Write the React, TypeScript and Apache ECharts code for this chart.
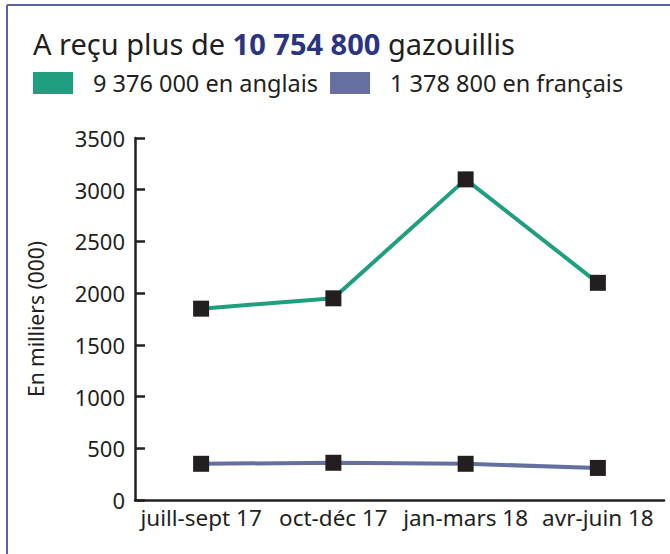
import React, { useEffect, useRef } from "react";
import * as echarts from "echarts";

const categories = ["juill-sept 17", "oct-déc 17", "jan-mars 18", "avr-juin 18"];
const englishValues = [1850, 1950, 3100, 2100];
const frenchValues = [350, 360, 350, 310];
const englishName = "9 376 000 en anglais";
const frenchName = "1 378 800 en français";
const titlePre = "A reçu plus de ";
const titleNum = "10 754 800";
const titlePost = " gazouillis";
const yAxisName = "En milliers (000)";

const GREEN = "#1f9e80";
const PURPLE = "#6670a0";
const INK = "#231f20";
const FONT = "'Noto Sans', 'Open Sans', sans-serif";

export default function App() {
  const ref = useRef<HTMLDivElement>(null);
  useEffect(() => {
    if (!ref.current) return;
    const chart = echarts.init(ref.current, undefined, { renderer: "svg" });
    chart.setOption({
      animation: false,
      backgroundColor: "#fff",
      textStyle: { fontFamily: FONT, color: INK },
      title: {
        text: `{a|${titlePre}}{b|${titleNum}}{a|${titlePost}}`,
        left: 28,
        top: 24,
        textStyle: {
          fontWeight: "normal",
          rich: {
            a: { fontSize: 29, color: INK, fontFamily: FONT, fontWeight: "normal" },
            b: { fontSize: 29, color: "#2b3481", fontWeight: "bold", fontFamily: FONT },
          },
        },
      },
      legend: {
        left: 28,
        top: 66,
        itemWidth: 40,
        itemHeight: 22,
        itemGap: 12,
        textStyle: { fontSize: 23.5, color: INK, fontFamily: FONT, padding: [0, 0, 0, 15] },
        data: [
          { name: englishName, icon: "rect", itemStyle: { color: GREEN } },
          { name: frenchName, icon: "rect", itemStyle: { color: PURPLE } },
        ],
      },
      graphic: [
        { type: "line", shape: { x1: 7, y1: 5, x2: 670, y2: 5 }, style: { stroke: "#5b63a3", lineWidth: 2 } },
        { type: "line", shape: { x1: 7, y1: 5, x2: 7, y2: 554 }, style: { stroke: "#5b63a3", lineWidth: 2 } },
      ],
      grid: { left: 135, right: 6, top: 138, bottom: 54 },
      xAxis: {
        type: "category",
        data: categories,
        boundaryGap: true,
        axisLine: { lineStyle: { color: INK, width: 2.5 } },
        axisTick: { inside: true, length: 10, interval: 0, lineStyle: { color: INK, width: 2.5 } },
        axisLabel: { fontSize: 22.5, color: INK, margin: 6, interval: 0, fontFamily: FONT },
      },
      yAxis: {
        type: "value",
        min: 0,
        max: 3500,
        interval: 500,
        name: yAxisName,
        nameLocation: "middle",
        nameGap: 89,
        nameTextStyle: { fontSize: 21, color: INK, fontFamily: FONT },
        splitLine: { show: false },
        axisLine: { show: true, lineStyle: { color: INK, width: 2.5 } },
        axisTick: { show: true, inside: true, length: 10, lineStyle: { color: INK, width: 2.5 } },
        axisLabel: { fontSize: 22, color: INK, margin: 10, fontFamily: FONT, formatter: (v: number) => String(v) },
      },
      series: [
        {
          name: englishName,
          type: "line",
          data: englishValues,
          symbol: "rect",
          symbolSize: 16,
          itemStyle: { color: INK },
          lineStyle: { color: GREEN, width: 4 },
        },
        {
          name: frenchName,
          type: "line",
          data: frenchValues,
          symbol: "rect",
          symbolSize: 16,
          itemStyle: { color: INK },
          lineStyle: { color: PURPLE, width: 4 },
        },
      ],
    });
    return () => chart.dispose();
  }, []);
  return <div ref={ref} style={{ width: 670, height: 554, position: "absolute", left: 0, top: 0 }} />;
}
